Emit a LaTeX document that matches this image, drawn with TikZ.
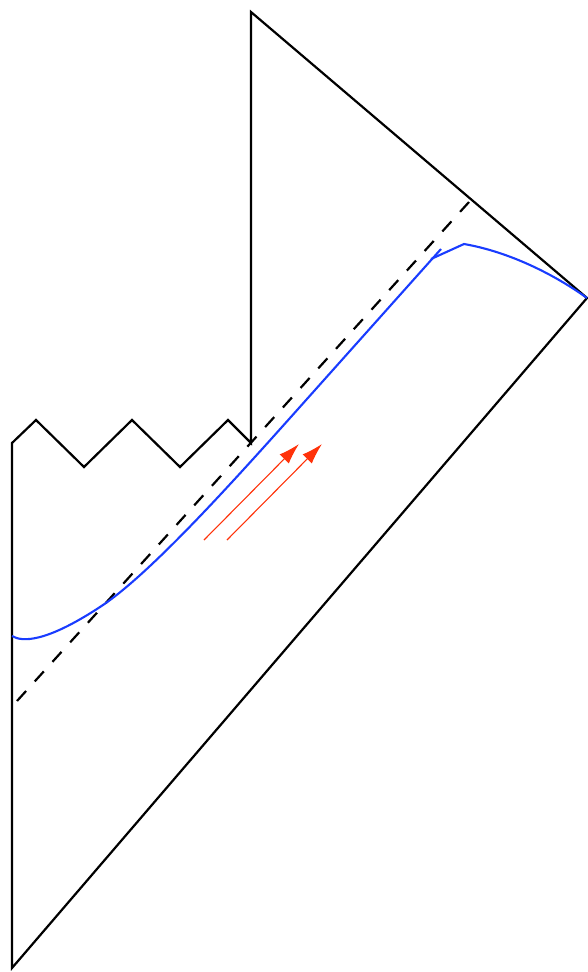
\documentclass[tikz,border=0pt]{standalone}
\usetikzlibrary{arrows.meta}
\definecolor{curveblue}{RGB}{25,60,255}
\definecolor{arrowred}{RGB}{255,50,10}
\begin{document}
\begin{tikzpicture}[x=1pt,y=-1pt,
  edge/.style={black,line width=2.2pt,line join=miter},
  horizon/.style={black,line width=2.2pt,dash pattern=on 13.5pt off 12.9pt},
  bluecurve/.style={curveblue,line width=2.1pt},
  flow/.style={arrowred,line width=1.1pt,-{Latex[length=21pt,width=13pt]}}]
\useasboundingbox (0,0) rectangle (588,972);
% outline vertices
\coordinate (bot) at (12,968);
\coordinate (right) at (587,298);
\coordinate (top) at (251,12);
\coordinate (notch) at (251,443);
\coordinate (z1) at (228,420);
\coordinate (z2) at (180,467);
\coordinate (z3) at (132,420);
\coordinate (z4) at (84,467);
\coordinate (z5) at (36,420);
\coordinate (lefttop) at (12,443);
\draw[edge] (lefttop) -- (bot) -- (right) -- (top) -- (notch) -- (z1) -- (z2) -- (z3) -- (z4) -- (z5) -- cycle;
% dashed horizon
\coordinate (h1) at (17,701);
\coordinate (h2) at (469,202);
\draw[horizon] (h1) -- (h2);
% blue curve
\coordinate (c0) at (12,636);
\coordinate (c1) at (100,607);
\coordinate (c2) at (290,418);
\coordinate (c3) at (441,249);
\draw[bluecurve] (c0) .. controls (22,642) and (45,643) .. (c1)
  .. controls (148,576) and (230,485) .. (c2) -- (c3);
\coordinate (b1) at (431,259);
\coordinate (bpeak) at (464,244);
\draw[bluecurve] (b1) -- (bpeak) .. controls (510,252) and (555,275) .. (right);
% red arrows
\coordinate (a1s) at (204,540);
\coordinate (a1e) at (299,444);
\coordinate (a2s) at (227,540);
\coordinate (a2e) at (322,444);
\draw[flow] (a1s) -- (a1e);
\draw[flow] (a2s) -- (a2e);
\end{tikzpicture}
\end{document}
